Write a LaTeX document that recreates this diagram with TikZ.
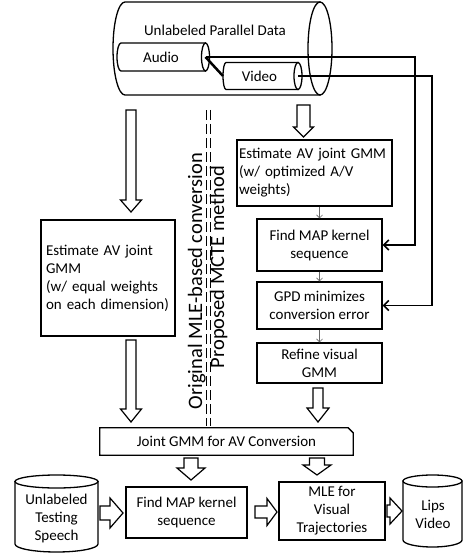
\documentclass[tikz,border=0pt]{standalone}
\usepackage{fontspec}
\setmainfont{Carlito}
\usetikzlibrary{arrows.meta,calc}
\newcommand\bdown[5]{\path[blk] let \p1=#1, \p2=#2 in (\x1-#3pt,\y1) -- (\x1+#3pt,\y1) -- (\x1+#3pt,\y2+#5pt) -- (\x1+#4pt,\y2+#5pt) -- (\x1,\y2) -- (\x1-#4pt,\y2+#5pt) -- (\x1-#3pt,\y2+#5pt) -- cycle;}
\newcommand\bright[5]{\path[blk] let \p1=#1, \p2=#2 in (\x1,\y1+#3pt) -- (\x2-#5pt,\y1+#3pt) -- (\x2-#5pt,\y1+#4pt) -- (\x2,\y1) -- (\x2-#5pt,\y1-#4pt) -- (\x2-#5pt,\y1-#3pt) -- (\x1,\y1-#3pt) -- cycle;}
\newcommand\vcyl[6]{%
  \draw[cyl] ({#1-#4},{#2+#5}) -- ({#1-#4},{#3-#6}) arc[start angle=180,end angle=0,x radius=#4,y radius=#6] -- ({#1+#4},{#2+#5}) -- cycle;
  \draw[cyl] (#1,{#2+#5}) ellipse[x radius=#4,y radius=#5];}
\begin{document}
\begin{tikzpicture}[x=1pt,y=-1pt,
  txt/.style={font=\fontsize{15}{18}\selectfont, inner sep=0pt},
  rot/.style={font=\fontsize{20.5}{24}\selectfont, inner sep=0pt, rotate=90, anchor=base},
  box/.style={draw, line width=1.3pt, fill=white, txt, align=center},
  blk/.style={draw, line width=1.2pt, fill=white, line join=miter},
  thinarrow/.style={draw=black!60, line width=0.6pt, -{Straight Barb[length=3pt,width=6pt]}},
  link/.style={line width=1.6pt, -{Straight Barb[length=5pt,width=10pt]}},
  cyl/.style={line width=1.3pt, fill=white},
]
\useasboundingbox (0,0) rectangle (465,559);
\fill[white] (0,0) rectangle (465,559);

% top data cylinder
\draw[cyl] (125,2) -- (320,2) -- (320,95) -- (125,95) arc[start angle=90,end angle=270,x radius=12,y radius=46.5] -- cycle;
\draw[cyl] (320,48.5) ellipse[x radius=12,y radius=46.5];
\node[txt] (data) at (215,30) {Unlabeled Parallel Data};
% audio
\draw[cyl] (121,43) -- (205.5,43) -- (205.5,71) -- (121,71) arc[start angle=90,end angle=270,x radius=4,y radius=14] -- cycle;
\draw[cyl] (205.5,57) ellipse[x radius=4,y radius=14];
\node[txt] (aud) at (161,57) {Audio};
% video
\draw[cyl] (226,62.5) -- (298,62.5) -- (298,89.5) -- (226,89.5) arc[start angle=90,end angle=270,x radius=3,y radius=13.5] -- cycle;
\draw[cyl] (298,76) ellipse[x radius=4,y radius=13.5];
\node[txt] (vid) at (259.5,76) {Video};
\coordinate (audE) at (205.5,57);
\coordinate (vidW) at (223,76);
\coordinate (vidE) at (298,76);

% divider
\draw[line width=1pt, double distance=2.2pt, dash pattern=on 10pt off 4pt] (208.5,110) -- (208.5,426);
\node[rot] (orig) at (202,281) {Original MLE-based conversion};
\node[rot] (prop) at (224,267) {Proposed MCTE method};

% left column
\node[box, minimum width=134pt, minimum height=116pt, text width=124pt, align=left] (L1) at (108,278) {Estimate AV joint\\GMM\\(w/ equal weights\\on each dimension)};

% right column
\node[box, minimum width=155pt, minimum height=66pt, text width=151pt, align=left] (R1) at (314.5,173) {Estimate AV joint GMM\\(w/ optimized A/V\\weights)};
\node[box, minimum width=125pt, minimum height=52pt] (R2) at (319.5,245) {Find MAP kernel\\sequence};
\node[box, minimum width=125pt, minimum height=47pt] (R3) at (319.5,305.5) {GPD minimizes\\conversion error};
\node[box, minimum width=125pt, minimum height=40pt] (R4) at (319.5,363) {Refine visual\\GMM};
\draw[thinarrow] (R2.north |- R1.south) -- (R2.north);
\draw[thinarrow] (R3.north |- R2.south) -- (R3.north);
\draw[thinarrow] (R4.north |- R3.south) -- (R4.north);

% links from data
\draw[line width=2.5pt] (audE) -- (vidW);
\draw[link] (audE) -- (415,57) |- (R2.east);
\draw[link] (vidE) -- (432,76) |- (R3.east);

% joint GMM
\node[txt, minimum width=253pt, minimum height=27pt] (J) at (226.5,441.5) {Joint GMM for AV Conversion};
\draw[line width=1.3pt] (J.north west) -- ([xshift=-5pt]J.north east) -- ([yshift=-5pt]J.north east) -- (J.south east) -- (J.south west) -- cycle;

% bottom row
\vcyl{56.5}{475}{552}{41.5}{6.5}{8}
\node[txt, align=center] (C1) at (56.5,518.5) {Unlabeled\\Testing\\Speech};
\node[box, minimum width=121pt, minimum height=51pt] (B1) at (186.5,512.5) {Find MAP kernel\\sequence};
\node[box, minimum width=106pt, minimum height=58pt] (B2) at (332,511) {MLE for\\Visual\\Trajectories};
\vcyl{432.5}{475}{547}{29.5}{6}{7}
\node[txt, align=center] (C2) at (433,514) {Lips\\Video};

% block arrows
\bdown{(131,110)}{(131,212)}{5}{10.5}{12}
\bdown{(131,340)}{(131,422)}{5}{10.5}{13}
\bdown{(303.5,105)}{(303.5,137)}{6.5}{10}{10}
\bdown{(318,388)}{(318,422)}{5}{11}{14}
\bdown{(191,458)}{(191,480)}{7}{14}{12}
\bdown{(317,458)}{(317,475)}{7.5}{14}{10}
\bright{(100,513)}{(123,513)}{7}{15}{13}
\bright{(255,512)}{(277,512)}{6}{13.5}{10}
\bright{(387,511)}{(402,511)}{6}{13}{12}
\end{tikzpicture}
\end{document}
